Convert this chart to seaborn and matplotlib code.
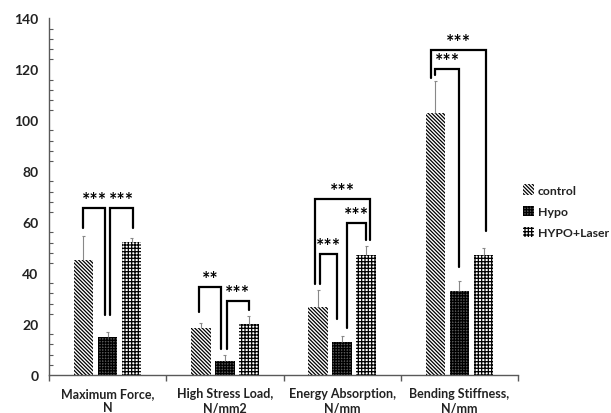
import pandas as pd
import seaborn as sns
import matplotlib.pyplot as plt
from matplotlib.patches import Patch
from matplotlib.ticker import MultipleLocator

# Data
measures = ["Maximum Force,\nN", "High Stress Load,\nN/mm2",
            "Energy Absorption,\nN/mm", "Bending Stiffness,\nN/mm"]
groups = ["control", "Hypo", "HYPO+Laser"]
control = [45.3, 18.3, 26.5, 103.0]
hypo = [14.9, 5.6, 13.0, 33.0]
laser = [52.1, 20.0, 47.1, 47.0]
control_sd = [9.2, 2.1, 7.0, 12.6]
hypo_sd = [2.1, 2.4, 2.4, 4.0]
laser_sd = [1.6, 3.2, 3.7, 3.0]

# significance brackets: category, left group, right group,
# left leg start, right leg start, bracket top, label,
# left/right leg nudge (category units)
brk_cat = [0, 0, 1, 1, 2, 2, 2, 3, 3]
brk_left = [0, 1, 0, 1, 0, 1, 0, 0, 0]
brk_right = [1, 2, 1, 2, 1, 2, 2, 1, 2]
brk_y1 = [57.7, 23.5, 24.7, 10.2, 35.7, 18.3, 35.7, 117.8, 116.5]
brk_y2 = [23.5, 57.7, 10.2, 25.6, 22.0, 53.1, 53.1, 42.3, 56.7]
brk_top = [65.6, 65.6, 34.4, 29.2, 47.5, 59.7, 69.1, 120.2, 127.8]
brk_txt = ["***", "***", "**", "***", "***", "***", "***", "***", "***"]
brk_dl = [0.0, 0.025, -0.015, 0.015, 0.02, 0.045, -0.025, 0.0, -0.04]
brk_dr = [-0.02, 0.015, -0.03, 0.0, -0.045, 0.0, 0.03, 0.0, 0.025]

df = pd.DataFrame({
    "Measure": measures * 3,
    "Group": [g for g in groups for _ in measures],
    "Value": control + hypo + laser,
})

sns.set_style("white")
plt.rcParams["font.family"] = ["Lato", "DejaVu Sans"]
plt.rcParams["font.weight"] = "bold"
plt.rcParams["hatch.linewidth"] = 0.9
plt.rcParams["hatch.color"] = "black"

fig = plt.figure(figsize=(6.11, 4.14), dpi=100)
ax = fig.add_axes([0.080, 0.092, 0.768, 0.861])

faces = ["white", "#5a5a5a", "white"]
hatches = ["\\" * 9, "+" * 6, "+" * 5]

sns.barplot(data=df, x="Measure", y="Value", hue="Group", hue_order=groups,
            palette=faces, width=0.615, gap=0.18,
            errorbar=None, legend=False, ax=ax)

for cont, h, fc in zip(ax.containers, hatches, faces):
    for bar in cont:
        bar.set_hatch(h)
        bar.set_facecolor(fc)
        bar.set_edgecolor("black")
        bar.set_linewidth(0)

# error bars (upper only)
centers = []
for cont, vals, sds in zip(ax.containers, [control, hypo, laser],
                           [control_sd, hypo_sd, laser_sd]):
    xs = [b.get_x() + b.get_width() / 2 for b in cont]
    centers.append(xs)
    tops = [v + s for v, s in zip(vals, sds)]
    ax.vlines(xs, vals, tops, color="#888888", lw=0.8, zorder=3)
    ax.hlines(tops, [x - 0.012 for x in xs], [x + 0.012 for x in xs],
              color="#888888", lw=0.8, zorder=3)

# significance brackets
for c, l, r, y1, y2, top, txt, dl, dr in zip(brk_cat, brk_left, brk_right,
                                              brk_y1, brk_y2, brk_top,
                                              brk_txt, brk_dl, brk_dr):
    xl = centers[l][c] + dl
    xr = centers[r][c] + dr
    ax.plot([xl, xl, xr, xr], [y1, top, top, y2], color="black", lw=1.6,
            solid_joinstyle="miter", zorder=4)
    ax.annotate(txt, ((xl + xr) / 2, top), xytext=(0, 0),
                textcoords="offset points", ha="center", va="bottom",
                fontsize=14, fontweight="bold", color="black")

ax.set_xlim(-0.5, 3.5)
ax.set_ylim(0, 140)
ax.set_xlabel("")
ax.set_ylabel("")
sns.despine(ax=ax)
for s in ["left", "bottom"]:
    ax.spines[s].set_color("#595959")
    ax.spines[s].set_linewidth(1.0)

ax.yaxis.set_major_locator(MultipleLocator(20))
ax.yaxis.set_minor_locator(MultipleLocator(4))
ax.tick_params(axis="y", which="major", direction="inout", length=7,
               width=1.0, color="#595959", labelsize=10, pad=4,
               labelcolor="#222222")
ax.tick_params(axis="y", which="minor", direction="in", length=3,
               width=0.8, color="#595959", left=True)
ax.set_xticks(range(len(measures)))
ax.set_xticklabels(measures, fontsize=9, fontweight="bold", color="#222222")
ax.set_xticks([-0.5, 0.5, 1.5, 2.5, 3.5], minor=True)
ax.tick_params(axis="x", which="major", length=0, pad=9)
ax.tick_params(axis="x", which="minor", direction="out", length=4,
               width=1.0, color="#595959", bottom=True)
for t in ax.get_yticklabels():
    t.set_fontweight("bold")

handles = [Patch(facecolor=fc, edgecolor="black", hatch=h, lw=0, label=g)
           for g, h, fc in zip(groups, hatches, faces)]
fig.legend(handles=handles, loc="upper left", bbox_to_anchor=(0.856, 0.552),
           frameon=False, handlelength=0.9, handleheight=0.9,
           handletextpad=0.3, labelspacing=0.8, borderaxespad=0, borderpad=0,
           prop={"weight": "bold", "size": 8.8}, labelcolor="#222222")

fig.savefig("out.png", dpi=100)
